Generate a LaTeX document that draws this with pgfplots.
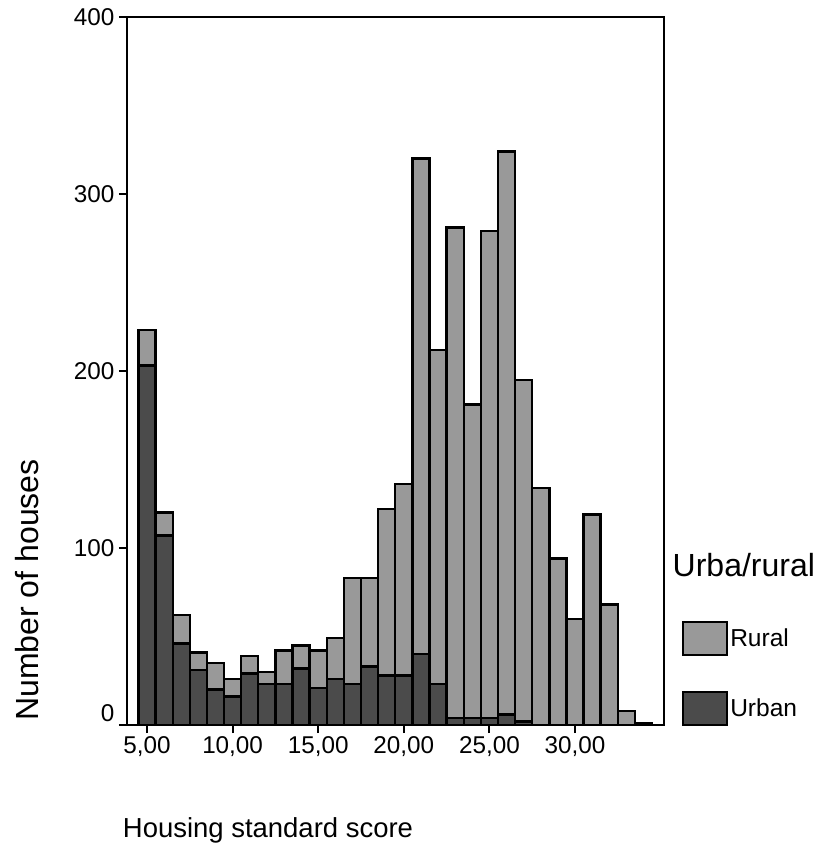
\documentclass[border=0pt]{standalone}
\usepackage{fontspec}
\setmainfont{Liberation Sans}
\usepackage{pgfplots}
\pgfplotsset{compat=1.18}
\usepackage{pgfplotstable}

\definecolor{rural}{RGB}{153,153,153}
\definecolor{urban}{RGB}{75,75,75}

% counts per score bin: urban, rural (stacked)
\pgfplotstableread{
score urban rural
5  203 20
6  107 13
7  46  16
8  31  10
9  20  15
10 16  10
11 29  10
12 23  7
13 23  19
14 32  13
15 21  21
16 26  23
17 23  60
18 33  50
19 28  94
20 28  108
21 40  280
22 23  189
23 4   277
24 4   177
25 4   275
26 6   318
27 2   193
28 0   134
29 0   94
30 0   60
31 0   119
32 0   68
33 0   8
34 1   0
}\housing

\begin{document}
\begin{tikzpicture}[x=0.75pt,y=0.75pt]
\path[use as bounding box] (0,0) rectangle (820,850);
\begin{axis}[
    at={(95.25pt,93.75pt)}, anchor=south west,
    scale only axis,
    width=402.75pt, height=531pt,
    xmin=3.83, xmax=35.2,
    ymin=0, ymax=400,
    ybar stacked,
    bar width=1,
    xtick={5,10,...,30},
    xticklabels={{5,00},{10,00},{15,00},{20,00},{25,00},{30,00}},
    ytick={0,100,...,400},
    yticklabels={\raisebox{18pt}{0},100,200,300,400},
    tick pos=left,
    tick align=outside,
    major tick length=6pt,
    major tick style={black, line width=1.5pt},
    axis line style={line width=1.5pt},
    tick label style={font=\fontsize{18.2}{22}\selectfont},
    xticklabel style={yshift=0.5pt},
  ]
  % urban
  \addplot[fill=urban, draw=black, line width=1.8pt] table[x=score,y=urban]{\housing};
  % rural
  \addplot[fill=rural, draw=black, line width=1.8pt] table[x=score,y=rural]{\housing};
\end{axis}

% axis titles
\node[font=\fontsize{20.6}{24}\selectfont] at (268,20) {Housing standard score};
\node[font=\fontsize{24}{28}\selectfont, rotate=90] at (27,260) {Number of houses};

% legend
\node[font=\fontsize{24}{28}\selectfont, anchor=west] at (668,285) {Urba/rural};
\draw[fill=rural, line width=1.8pt] (683,195) rectangle (727,228);
\draw[fill=urban, line width=1.8pt] (683,125) rectangle (727,158);
\node[font=\fontsize{18.4}{22}\selectfont, anchor=west, inner sep=0pt] at (730,212) {Rural};
\node[font=\fontsize{18.4}{22}\selectfont, anchor=west, inner sep=0pt] at (730,142) {Urban};
\end{tikzpicture}
\end{document}
